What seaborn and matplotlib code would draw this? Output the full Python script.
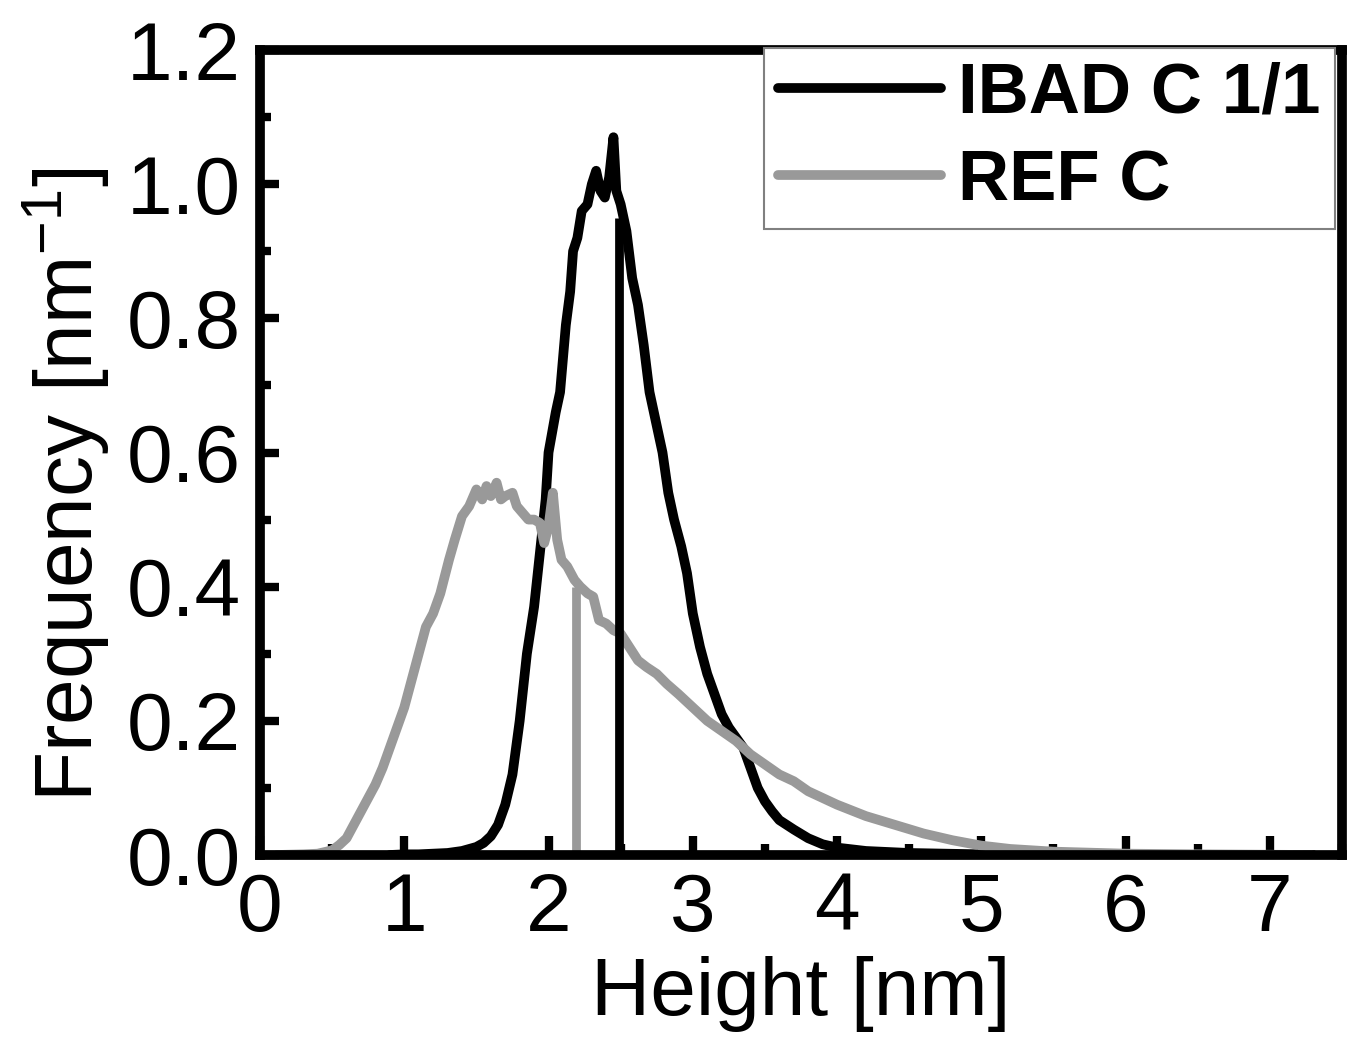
import numpy as np
import pandas as pd
import matplotlib
matplotlib.use("Agg")
import matplotlib.pyplot as plt
import seaborn as sns
from matplotlib.ticker import MultipleLocator
from matplotlib.lines import Line2D

# ---------------- data ----------------
ibad_x = [0.90, 1.00, 1.10, 1.20, 1.30, 1.40, 1.50, 1.55, 1.60, 1.65, 1.70, 1.75,
          1.80, 1.85, 1.90, 1.94, 1.98, 2.00, 2.05, 2.08, 2.12, 2.15, 2.17, 2.20,
          2.23, 2.27, 2.30, 2.33, 2.36, 2.39, 2.42, 2.45, 2.47, 2.50, 2.54, 2.58,
          2.62, 2.66, 2.70, 2.75, 2.79, 2.83, 2.87, 2.92, 2.96, 3.00, 3.05, 3.10,
          3.15, 3.20, 3.25, 3.30, 3.35, 3.40, 3.45, 3.50, 3.55, 3.60, 3.70, 3.80,
          3.90, 4.00, 4.20, 4.50, 5.00, 6.00, 7.30]
ibad_y = [0.000, 0.001, 0.001, 0.002, 0.003, 0.006, 0.012, 0.018, 0.028, 0.045, 0.075, 0.120,
          0.200, 0.300, 0.370, 0.450, 0.530, 0.600, 0.660, 0.690, 0.790, 0.840, 0.900, 0.920,
          0.960, 0.970, 1.000, 1.020, 0.990, 0.980, 1.010, 1.070, 0.990, 0.970, 0.930, 0.860,
          0.820, 0.760, 0.690, 0.640, 0.600, 0.540, 0.500, 0.460, 0.420, 0.360, 0.310, 0.270,
          0.240, 0.210, 0.190, 0.175, 0.160, 0.130, 0.100, 0.080, 0.065, 0.052, 0.038, 0.025,
          0.016, 0.011, 0.006, 0.003, 0.001, 0.000, 0.000]

ref_x = [0.12, 0.30, 0.40, 0.50, 0.55, 0.60, 0.65, 0.70, 0.75, 0.80, 0.85, 0.90,
         0.95, 1.00, 1.05, 1.10, 1.15, 1.20, 1.25, 1.31, 1.35, 1.40, 1.45, 1.50,
         1.54, 1.57, 1.60, 1.64, 1.67, 1.70, 1.75, 1.78, 1.82, 1.86, 1.90, 1.94,
         1.97, 2.00, 2.03, 2.06, 2.09, 2.13, 2.18, 2.22, 2.27, 2.31, 2.35, 2.40,
         2.45, 2.50, 2.56, 2.62, 2.68, 2.75, 2.82, 2.90, 3.00, 3.10, 3.20, 3.30,
         3.40, 3.50, 3.60, 3.70, 3.80, 3.90, 4.00, 4.20, 4.40, 4.60, 4.80, 5.00,
         5.20, 5.50, 6.00, 6.50, 7.29]
ref_y = [0.000, 0.001, 0.002, 0.007, 0.015, 0.025, 0.045, 0.065, 0.085, 0.105, 0.130, 0.160,
         0.190, 0.220, 0.260, 0.300, 0.340, 0.360, 0.390, 0.440, 0.470, 0.505, 0.520, 0.545,
         0.530, 0.550, 0.535, 0.555, 0.530, 0.535, 0.540, 0.520, 0.510, 0.500, 0.500, 0.495,
         0.465, 0.490, 0.540, 0.470, 0.440, 0.430, 0.410, 0.400, 0.390, 0.385, 0.350, 0.345,
         0.335, 0.330, 0.310, 0.290, 0.280, 0.270, 0.255, 0.240, 0.220, 0.200, 0.185, 0.170,
         0.150, 0.135, 0.120, 0.110, 0.095, 0.085, 0.075, 0.058, 0.045, 0.032, 0.022, 0.014,
         0.009, 0.005, 0.002, 0.001, 0.000]

series_names = ["IBAD C 1/1", "REF C"]
series_colors = ["#000000", "#999999"]
mean_x = [2.49, 2.19]          # vertical marker positions
mean_top = [0.95, 0.40]        # marker heights

x_ticks = [0, 1, 2, 3, 4, 5, 6, 7]
y_ticks = [0.0, 0.2, 0.4, 0.6, 0.8, 1.0, 1.2]
y_tick_labels = ["0.0", "0.2", "0.4", "0.6", "0.8", "1.0", "1.2"]

# ---------------- style ----------------
sns.set_theme(style="ticks")
plt.rcParams["font.family"] = ["Liberation Sans", "DejaVu Sans"]
plt.rcParams["mathtext.fontset"] = "custom"
plt.rcParams["mathtext.rm"] = "Liberation Sans"
plt.rcParams["mathtext.default"] = "regular"
plt.rcParams["text.color"] = "black"

W, H = 1355, 1044
fig = plt.figure(figsize=(W / 100, H / 100), dpi=100)
fig.patch.set_facecolor("white")
L, R, T, B = 260, 1342, 50, 855
ax = fig.add_axes([L / W, 1 - B / H, (R - L) / W, (B - T) / H])
ax.set_facecolor("white")

df = pd.concat([
    pd.DataFrame({"h": ibad_x, "f": ibad_y, "series": series_names[0]}),
    pd.DataFrame({"h": ref_x, "f": ref_y, "series": series_names[1]}),
], ignore_index=True)

lw = 7
sns.lineplot(data=df, x="h", y="f", hue="series", hue_order=series_names,
             palette=dict(zip(series_names, series_colors)), estimator=None,
             sort=False, linewidth=lw, legend=False, ax=ax)

# vertical markers
ax.vlines(mean_x[1], 0, mean_top[1], color=series_colors[1], linewidth=lw * 0.9, zorder=1.9)
ax.vlines(mean_x[0], 0, mean_top[0], color=series_colors[0], linewidth=lw * 0.9, zorder=2.2)

ax.set_xlim(0, 7.5)
ax.set_ylim(0, 1.2)
ax.set_xticks(x_ticks)
ax.set_xticklabels([str(t) for t in x_ticks])
ax.set_yticks(y_ticks)
ax.set_yticklabels(y_tick_labels)
ax.xaxis.set_minor_locator(MultipleLocator(0.5))
ax.yaxis.set_minor_locator(MultipleLocator(0.1))

fs = 59
ax.tick_params(axis="both", which="major", direction="in", length=14, width=6,
               labelsize=fs, color="black", labelcolor="black", pad=12,
               top=False, right=False)
ax.tick_params(axis="both", which="minor", direction="in", length=8, width=6,
               color="black", top=False, right=False)
ax.tick_params(axis="y", which="major", pad=14)

for s in ax.spines.values():
    s.set_visible(True)
    s.set_linewidth(7)
    s.set_color("black")

ax.set_xlabel("Height [nm]", fontsize=fs, color="black")
ax.set_ylabel("Frequency [nm$^{-1}$]", fontsize=fs, color="black")
ax.xaxis.set_label_coords(0.5, -0.125)
ax.yaxis.set_label_coords(-0.137, 0.46)

lfs = 51
handles = [Line2D([0], [0], color=c, lw=lw, solid_capstyle="round") for c in series_colors]
leg = ax.legend(handles, series_names, loc="upper right", bbox_to_anchor=(0.9935, 1.003),
                borderaxespad=0, frameon=True, fancybox=False, handlelength=2.3,
                handletextpad=0.25, labelspacing=0.3, borderpad=0.2,
                prop={"family": ["Liberation Sans"], "weight": "bold", "size": lfs})
for t in leg.get_texts():
    t.set_color("black")
leg.get_frame().set_edgecolor("#808080")
leg.get_frame().set_linewidth(1.5)
leg.get_frame().set_facecolor("white")
leg.get_frame().set_alpha(1)

fig.savefig("out.png", dpi=100, facecolor="white")
